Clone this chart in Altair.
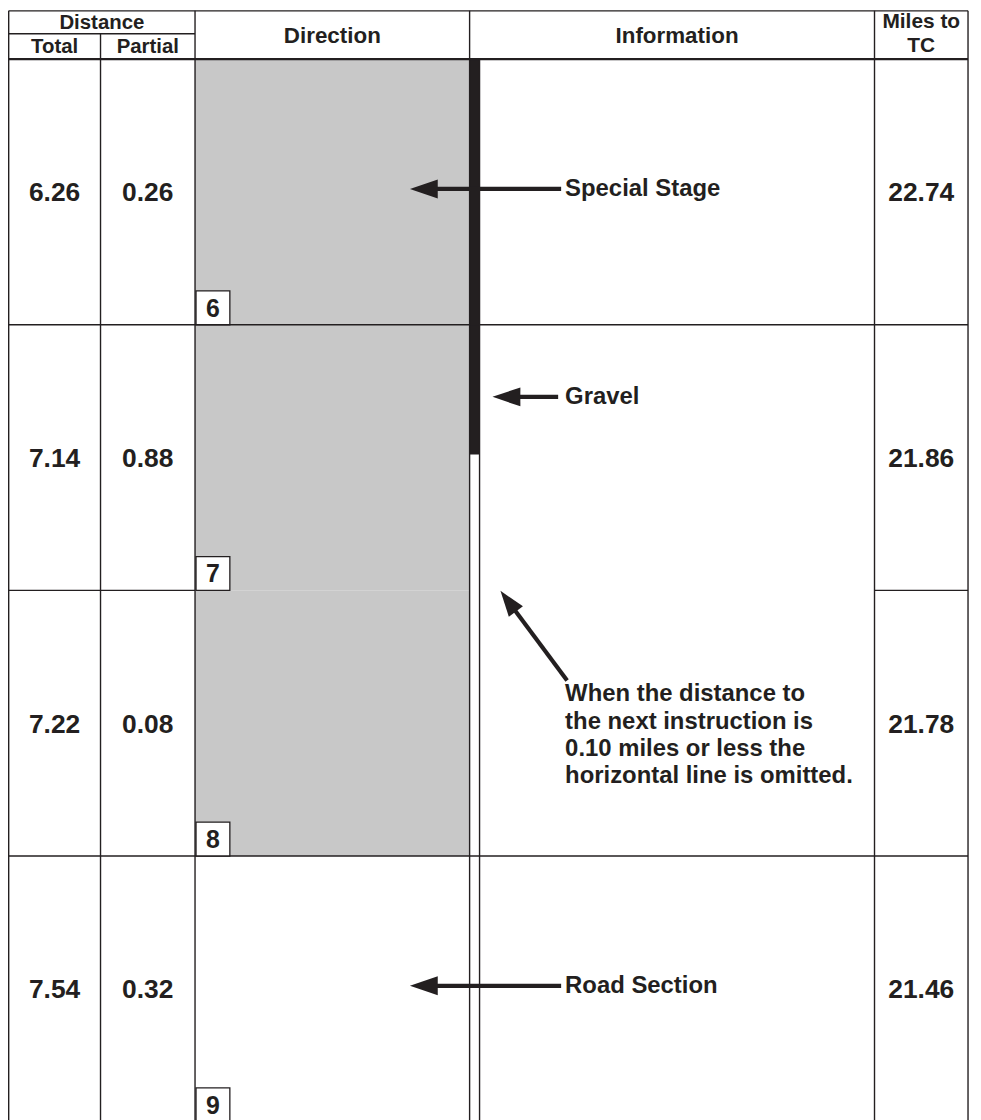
import altair as alt
import pandas as pd
import math

# ---------------- data (table content) ----------------
total_miles = ["6.26", "7.14", "7.22", "7.54"]
partial_miles = ["0.26", "0.88", "0.08", "0.32"]
miles_to_tc = ["22.74", "21.86", "21.78", "21.46"]
instruction_numbers = ["6", "7", "8", "9"]
info_labels = ["Special Stage", "Gravel", "", "Road Section"]
note_lines = [
    "When the distance to",
    "the next instruction is",
    "0.10 miles or less the",
    "horizontal line is omitted.",
]
shaded_rows = [True, True, True, False]
# horizontal line below row i drawn across Direction/Information?
full_separator_below = [True, False, True]
header_top = ["Distance", "Miles to"]
header_sub = ["Total", "Partial", "TC"]
header_main = ["Direction", "Information"]

# ---------------- layout (reference pixel coordinates) ----------------
X_LEFT, X_TOT, X_PART, X_DIR, X_DIR2, X_INFO, X_RIGHT = 8.7, 101, 196, 472, 482, 879, 973
Y_TOP, Y_SUB, Y_HEAD = 4, 27, 52.5
ROW_H = 267
Y_BOTTOM = 1121
N = len(total_miles)
row_top = [Y_HEAD + i * ROW_H for i in range(N)]
row_bot = [t + ROW_H for t in row_top]
row_mid = [(a + b) / 2 for a, b in zip(row_top, row_bot)]
col_mid_total = (X_LEFT + X_TOT) / 2
col_mid_part = (X_TOT + X_PART) / 2
col_mid_dir = (X_PART + X_DIR) / 2
col_mid_info = (X_DIR2 + X_INFO) / 2
col_mid_tc = (X_INFO + X_RIGHT) / 2
INFO_TEXT_X = 568
BOX = 34
INK = "#231f20"
GRAY = "#c8c8c8"
FONT = "Liberation Sans"

W, H = 970, 1112
xs = alt.Scale(domain=[8, 8 + W], nice=False, zero=False)
ys = alt.Scale(domain=[4, 4 + H], reverse=True, nice=False, zero=False)


def X(f):
    return alt.X(f, type="quantitative", scale=xs, axis=None)


def Y(f):
    return alt.Y(f, type="quantitative", scale=ys, axis=None)


# ---------------- rectangles ----------------
rects = []
for i in range(N):
    if shaded_rows[i]:
        rects.append(dict(x=X_PART, x2=X_DIR, y=row_top[i], y2=row_bot[i], c=GRAY))
# gravel / special-stage thick bar
rects.append(dict(x=X_DIR, x2=X_DIR2, y=Y_HEAD, y2=450, c=INK))
rect_df = pd.DataFrame(rects)
rect_layer = alt.Chart(rect_df).mark_rect(strokeWidth=0).encode(
    x=X("x"), x2="x2", y=Y("y"), y2="y2",
    color=alt.Color("c:N", scale=None),
)

box_df = pd.DataFrame(dict(
    x=[X_PART + 1] * N, x2=[X_PART + 1 + BOX] * N,
    y=[b - BOX for b in row_bot], y2=row_bot,
))
box_layer = alt.Chart(box_df).mark_rect(fill="white", stroke=INK, strokeWidth=1.3).encode(
    x=X("x"), x2="x2", y=Y("y"), y2="y2"
)

# ---------------- grid lines ----------------
lines = []
def hl(y, x1, x2, w=1.4):
    lines.append(dict(x=x1, x2=x2, y=y, y2=y, w=w))
def vl(x, y1, y2, w=1.4):
    lines.append(dict(x=x, x2=x, y=y1, y2=y2, w=w))

hl(Y_TOP, X_LEFT, X_RIGHT)
hl(Y_SUB, X_LEFT, X_PART)
hl(Y_HEAD, X_LEFT, X_RIGHT, 2.4)
for i in range(N - 1):
    y = row_bot[i]
    if full_separator_below[i]:
        hl(y, X_LEFT, X_RIGHT)
    else:
        hl(y, X_LEFT, X_PART)
        hl(y, X_INFO, X_RIGHT)
vl(X_LEFT, Y_TOP, Y_BOTTOM)
vl(X_TOT, Y_SUB, Y_BOTTOM)
vl(X_PART, Y_TOP, Y_BOTTOM)
vl(X_DIR, Y_TOP, Y_BOTTOM)
vl(X_DIR2, Y_HEAD, Y_BOTTOM)
vl(X_INFO, Y_TOP, Y_BOTTOM)
vl(X_RIGHT, Y_TOP, Y_BOTTOM)
line_df = pd.DataFrame(lines)
line_layer = alt.Chart(line_df).mark_rule(color=INK).encode(
    x=X("x"), x2="x2", y=Y("y"), y2="y2",
    strokeWidth=alt.StrokeWidth("w:Q", scale=None),
)

# ---------------- arrows ----------------
# (tail_x, tail_y, tip_x, tip_y, head_length)
arrows = [
    (564, 183, 412, 183, 28),
    (561, 392, 495, 392, 28),
    (570, 677, 503, 587, 26),
    (564, 984, 412, 984, 28),
]
shafts, heads = [], []
for tx, ty, px, py, hlen in arrows:
    dx, dy = px - tx, py - ty
    L = math.hypot(dx, dy)
    ux, uy = dx / L, dy / L
    bx, by = px - ux * (hlen - 3), py - uy * (hlen - 3)
    shafts.append(dict(x=tx, x2=bx, y=ty, y2=by))
    cx, cy = px - ux * hlen / 2, py - uy * hlen / 2
    ang = (math.degrees(math.atan2(dy, dx)) - 180) % 360
    heads.append(dict(x=cx, y=cy, a=ang, s=hlen * hlen))
shaft_layer = alt.Chart(pd.DataFrame(shafts)).mark_rule(color=INK, strokeWidth=4.2).encode(
    x=X("x"), x2="x2", y=Y("y"), y2="y2"
)
head_layer = alt.Chart(pd.DataFrame(heads)).mark_point(
    shape="M -1 0 L 1 -0.68 L 1 0.68 Z", filled=True, color=INK, opacity=1, strokeWidth=0
).encode(
    x=X("x"), y=Y("y"),
    angle=alt.Angle("a:Q", scale=None),
    size=alt.Size("s:Q", scale=None),
)

# ---------------- texts ----------------
def text_layer(df, size, align="center"):
    return alt.Chart(df).mark_text(
        font=FONT, fontWeight="bold", fontSize=size, color=INK, align=align, baseline="middle"
    ).encode(x=X("x"), y=Y("y"), text="t:N")

num_df = pd.DataFrame(
    [dict(x=col_mid_total, y=m + 1.5, t=v) for v, m in zip(total_miles, row_mid)]
    + [dict(x=col_mid_part, y=m + 1.5, t=v) for v, m in zip(partial_miles, row_mid)]
    + [dict(x=col_mid_tc, y=m + 1.5, t=v) for v, m in zip(miles_to_tc, row_mid)]
)
box_txt_df = pd.DataFrame(
    [dict(x=X_PART + 1 + BOX / 2, y=b - BOX / 2 + 1, t=v) for v, b in zip(instruction_numbers, row_bot)]
)
info_y = [183, 392, None, 984]
info_df = pd.DataFrame(
    [dict(x=INFO_TEXT_X, y=y, t=t) for t, y in zip(info_labels, info_y) if t]
)
note_df = pd.DataFrame(
    [dict(x=INFO_TEXT_X, y=691 + 27.5 * k, t=t) for k, t in enumerate(note_lines)]
)
hdr_small_df = pd.DataFrame([
    dict(x=(X_LEFT + X_PART) / 2, y=16, t=header_top[0]),
    dict(x=col_mid_total, y=40, t=header_sub[0]),
    dict(x=col_mid_part, y=40, t=header_sub[1]),
])
hdr_tc_df = pd.DataFrame([
    dict(x=col_mid_tc, y=15.5, t=header_top[1]),
    dict(x=col_mid_tc, y=39.5, t=header_sub[2]),
])
hdr_main_df = pd.DataFrame([
    dict(x=col_mid_dir, y=29.5, t=header_main[0]),
    dict(x=col_mid_info, y=29.5, t=header_main[1]),
])

chart = alt.layer(
    rect_layer,
    line_layer,
    box_layer,
    shaft_layer,
    head_layer,
    text_layer(num_df, 26.5),
    text_layer(box_txt_df, 25),
    text_layer(info_df, 24, "left"),
    text_layer(note_df, 24, "left"),
    text_layer(hdr_small_df, 20.5),
    text_layer(hdr_tc_df, 21),
    text_layer(hdr_main_df, 22.5),
).properties(
    width=W, height=H,
    autosize=alt.AutoSizeParams(type="none"),
    padding=0,
).configure_view(strokeWidth=0)

chart.save("out.html", embed_options={"renderer": "svg", "actions": False})
